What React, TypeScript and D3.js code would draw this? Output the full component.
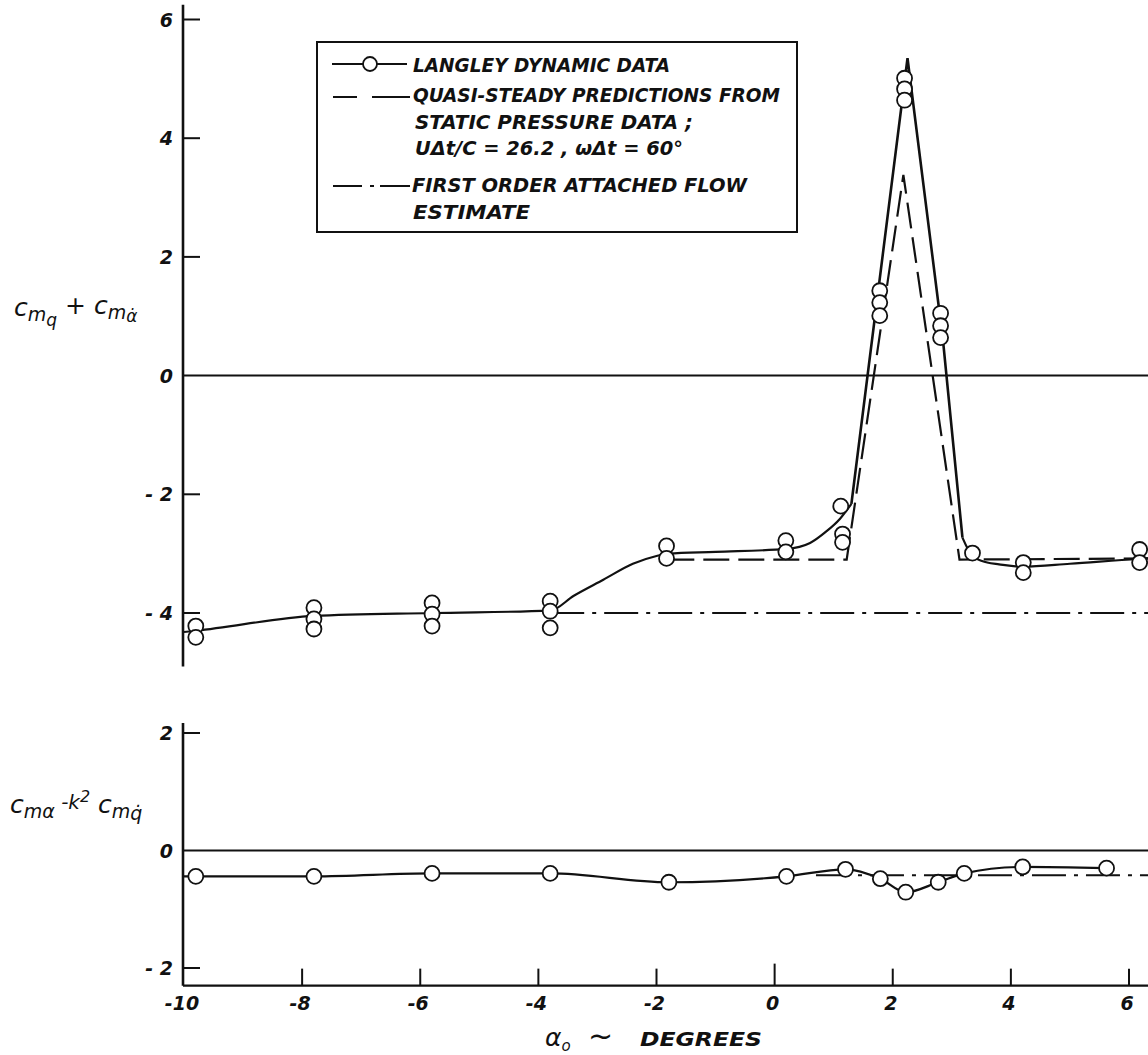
import React from 'react';
import * as d3 from 'd3';

// ---------- data ----------
const xTicks = [-10, -8, -6, -4, -2, 0, 2, 4, 6];
const topYTicks = [6, 4, 2, 0, -2, -4];
const botYTicks = [2, 0, -2];

// Langley dynamic data, cmq + cmα̇  [alpha, value]
const langleyTop: [number, number][] = [
  [-9.8, -4.22], [-9.8, -4.41],
  [-7.8, -3.91], [-7.8, -4.1], [-7.8, -4.27],
  [-5.8, -3.83], [-5.8, -4.02], [-5.8, -4.22],
  [-3.8, -3.8], [-3.8, -3.97], [-3.8, -4.25],
  [-1.83, -2.87], [-1.83, -3.08],
  [0.19, -2.78], [0.19, -2.97],
  [1.12, -2.2], [1.15, -2.67], [1.15, -2.81],
  [1.78, 1.43], [1.78, 1.23], [1.78, 1.01],
  [2.2, 5.01], [2.2, 4.83], [2.2, 4.64],
  [2.81, 1.05], [2.81, 0.84], [2.81, 0.64],
  [3.35, -2.99],
  [4.21, -3.15], [4.21, -3.32],
  [6.18, -2.93], [6.18, -3.15],
];

// faired curve through Langley data (top)
const fairTopLeft: [number, number][] = [
  [-10, -4.32], [-9.8, -4.3], [-7.8, -4.05], [-5.8, -4.0], [-3.8, -3.96],
  [-3.4, -3.71], [-2.9, -3.44], [-2.4, -3.17], [-2.0, -3.04], [-1.8, -3.0],
  [-1.0, -2.97], [0.2, -2.92], [0.6, -2.82], [0.87, -2.63], [1.1, -2.42], [1.3, -2.16],
];
const fairTopPeak: [number, number][] = [
  [1.3, -2.16], [2.25, 5.35], [2.85, 0.6], [3.18, -2.73],
];
const fairTopRight: [number, number][] = [
  [3.18, -2.73], [3.35, -3.04], [3.6, -3.15], [3.8, -3.18], [4.2, -3.22],
  [5.0, -3.17], [6.15, -3.09], [6.5, -3.07],
];

// quasi-steady predictions (dashed)
const quasiSteady: [number, number][] = [
  [-1.8, -3.1], [1.22, -3.1], [2.18, 3.38], [3.13, -3.1], [6.5, -3.08],
];

// first-order attached flow estimate (dash-dot)
const attachedTop: [number, number][] = [[-3.8, -4.0], [6.5, -4.0]];

// Langley dynamic data, cmα - k² cmq̇
const langleyBot: [number, number][] = [
  [-9.8, -0.44], [-7.8, -0.44], [-5.8, -0.39], [-3.8, -0.39], [-1.79, -0.54],
  [0.2, -0.44], [1.2, -0.32], [1.79, -0.48], [2.22, -0.71], [2.77, -0.54],
  [3.21, -0.39], [4.2, -0.28], [5.62, -0.3],
];
const fairBot: [number, number][] = [[-10, -0.44], ...langleyBot];
const attachedBot: [number, number][] = [[0.7, -0.42], [6.5, -0.42]];

const legendLabels = [
  'LANGLEY DYNAMIC DATA',
  'QUASI-STEADY PREDICTIONS FROM',
  'STATIC PRESSURE DATA ;',
  'UΔt/C = 26.2 , ωΔt = 60°',
  'FIRST ORDER ATTACHED FLOW',
  'ESTIMATE',
];

// ---------- chart ----------
const W = 1148;
const H = 1055;
const FONT = '"DejaVu Sans", sans-serif';

export default function App() {
  const x = d3.scaleLinear().domain([-10, 6]).range([184, 1129]);
  const yTop = d3.scaleLinear().domain([-4, 6]).range([613, 19.5]);
  const yBot = d3.scaleLinear().domain([-2, 2]).range([968, 733]);

  const lineTop = d3.line<[number, number]>().x((d) => x(d[0])).y((d) => yTop(d[1]));
  const smoothTop = d3
    .line<[number, number]>()
    .x((d) => x(d[0]))
    .y((d) => yTop(d[1]))
    .curve(d3.curveMonotoneX);
  const lineBot = d3.line<[number, number]>().x((d) => x(d[0])).y((d) => yBot(d[1]));
  const smoothBot = d3
    .line<[number, number]>()
    .x((d) => x(d[0]))
    .y((d) => yBot(d[1]))
    .curve(d3.curveMonotoneX);

  const axisX = x(-10) - 1;
  const xAxisY = yBot(-2.3);
  const dash = '26 9';
  const dashDot = '34 8 4 8';

  const txt = {
    fontFamily: FONT,
    fontStyle: 'italic' as const,
    fill: '#111',
  };

  return (
    <svg
      width={W}
      height={H}
      style={{ position: 'absolute', left: 0, top: 0, background: '#fff' }}
    >
      <rect x={0} y={0} width={W} height={H} fill="#fff" />

      {/* ---------- top panel ---------- */}
      <line x1={axisX} x2={axisX} y1={yTop(6.25)} y2={yTop(-4.9)} stroke="#111" strokeWidth={2.6} />
      {topYTicks.map((t) => (
        <g key={'tt' + t}>
          {t !== 0 && (
            <line x1={axisX} x2={axisX + 17} y1={yTop(t)} y2={yTop(t)} stroke="#111" strokeWidth={2} />
          )}
          <text
            x={173}
            y={yTop(t)}
            textAnchor="end"
            dominantBaseline="central"
            fontSize={19}
            fontWeight="bold"
            {...txt}
          >
            {t < 0 ? '- ' + Math.abs(t) : String(t)}
          </text>
        </g>
      ))}
      <line x1={axisX} x2={W} y1={yTop(0)} y2={yTop(0)} stroke="#111" strokeWidth={2} />

      {/* dash-dot attached flow */}
      <path d={lineTop(attachedTop) || ''} fill="none" stroke="#111" strokeWidth={2} strokeDasharray={dashDot} />
      {/* quasi-steady dashed */}
      <path d={lineTop(quasiSteady) || ''} fill="none" stroke="#111" strokeWidth={2.2} strokeDasharray={dash} />
      {/* faired solid curve */}
      <path d={smoothTop(fairTopLeft) || ''} fill="none" stroke="#111" strokeWidth={2.2} />
      <path d={lineTop(fairTopPeak) || ''} fill="none" stroke="#111" strokeWidth={2.6} strokeLinejoin="miter" />
      <path d={smoothTop(fairTopRight) || ''} fill="none" stroke="#111" strokeWidth={2.2} />
      {langleyTop.map((d, i) => (
        <circle key={'ct' + i} cx={x(d[0])} cy={yTop(d[1])} r={7.5} fill="#fff" stroke="#111" strokeWidth={1.8} />
      ))}

      {/* y label top */}
      <text x={14} y={316} fontSize={25} {...txt}>
        c
        <tspan fontSize={19} dy={5}>m</tspan>
        <tspan fontSize={17} dy={5}>q</tspan>
        <tspan fontSize={25} dy={-12}>{' + c'}</tspan>
        <tspan fontSize={19} dy={5}>m</tspan>
        <tspan fontSize={17} dy={3}>α̇</tspan>
      </text>

      {/* legend */}
      <rect x={317} y={42} width={480} height={190} fill="#fff" stroke="#111" strokeWidth={2} />
      <line x1={332} x2={407} y1={64} y2={64} stroke="#111" strokeWidth={2} />
      <circle cx={370} cy={64} r={7} fill="#fff" stroke="#111" strokeWidth={1.8} />
      <line x1={333} x2={357} y1={97} y2={97} stroke="#111" strokeWidth={2} />
      <line x1={372} x2={410} y1={97} y2={97} stroke="#111" strokeWidth={2} />
      <line x1={333} x2={362} y1={186} y2={186} stroke="#111" strokeWidth={2} />
      <line x1={370} x2={374} y1={186} y2={186} stroke="#111" strokeWidth={2} />
      <line x1={380} x2={410} y1={186} y2={186} stroke="#111" strokeWidth={2} />
      {[
        { t: legendLabels[0], x: 413, y: 72, w: 257 },
        { t: legendLabels[1], x: 413, y: 102, w: 367 },
        { t: legendLabels[2], x: 415, y: 129, w: 278 },
        { t: legendLabels[3], x: 415, y: 155, w: 268 },
        { t: legendLabels[4], x: 412, y: 192, w: 335 },
        { t: legendLabels[5], x: 413, y: 219, w: 117 },
      ].map((l, i) => (
        <text
          key={'lg' + i}
          x={l.x}
          y={l.y}
          fontSize={20}
          fontWeight="bold"
          textLength={l.w}
          lengthAdjust="spacingAndGlyphs"
          {...txt}
        >
          {l.t}
        </text>
      ))}

      {/* ---------- bottom panel ---------- */}
      <line x1={axisX} x2={axisX} y1={yBot(2.17)} y2={xAxisY} stroke="#111" strokeWidth={2.6} />
      {botYTicks.map((t) => (
        <g key={'bt' + t}>
          {t !== 0 && (
            <line x1={axisX} x2={axisX + 17} y1={yBot(t)} y2={yBot(t)} stroke="#111" strokeWidth={2} />
          )}
          <text
            x={173}
            y={yBot(t)}
            textAnchor="end"
            dominantBaseline="central"
            fontSize={19}
            fontWeight="bold"
            {...txt}
          >
            {t < 0 ? '- ' + Math.abs(t) : String(t)}
          </text>
        </g>
      ))}
      <line x1={axisX} x2={W} y1={yBot(0)} y2={yBot(0)} stroke="#111" strokeWidth={2.2} />
      <path d={lineBot(attachedBot) || ''} fill="none" stroke="#111" strokeWidth={2} strokeDasharray={dashDot} />
      <path d={smoothBot(fairBot) || ''} fill="none" stroke="#111" strokeWidth={2.2} />
      {langleyBot.map((d, i) => (
        <circle key={'cb' + i} cx={x(d[0])} cy={yBot(d[1])} r={7.5} fill="#fff" stroke="#111" strokeWidth={1.8} />
      ))}

      {/* y label bottom */}
      <text x={10} y={813} fontSize={25} {...txt}>
        c
        <tspan fontSize={19} dy={5}>mα</tspan>
        <tspan fontSize={20} dy={-9}>{' -k'}</tspan>
        <tspan fontSize={16} dy={-7}>2</tspan>
        <tspan fontSize={25} dy={11}>{' c'}</tspan>
        <tspan fontSize={19} dy={5}>m</tspan>
        <tspan fontSize={19} dy={2}>q̇</tspan>
      </text>

      {/* x axis */}
      <line x1={axisX} x2={W} y1={xAxisY} y2={xAxisY} stroke="#111" strokeWidth={2.2} />
      {xTicks.map((t) => (
        <g key={'xt' + t}>
          {t !== -10 && (
            <line x1={x(t)} x2={x(t)} y1={xAxisY} y2={xAxisY - (t === 0 ? 22 : 17)} stroke="#111" strokeWidth={2} />
          )}
          <text
            x={x(t) - 2}
            y={1003}
            textAnchor="middle"
            dominantBaseline="central"
            fontSize={19}
            fontWeight="bold"
            {...txt}
          >
            {t < 0 ? '-' + Math.abs(t) : String(t)}
          </text>
        </g>
      ))}
      <text x={545} y={1046} fontSize={25} {...txt}>
        α
        <tspan fontSize={15} dy={5}>o</tspan>
      </text>
      <text x={588} y={1046} fontSize={30} {...txt}>
        ~
      </text>
      <text x={640} y={1046} fontSize={20} fontWeight="bold" textLength={122} lengthAdjust="spacingAndGlyphs" {...txt}>
        DEGREES
      </text>
    </svg>
  );
}
